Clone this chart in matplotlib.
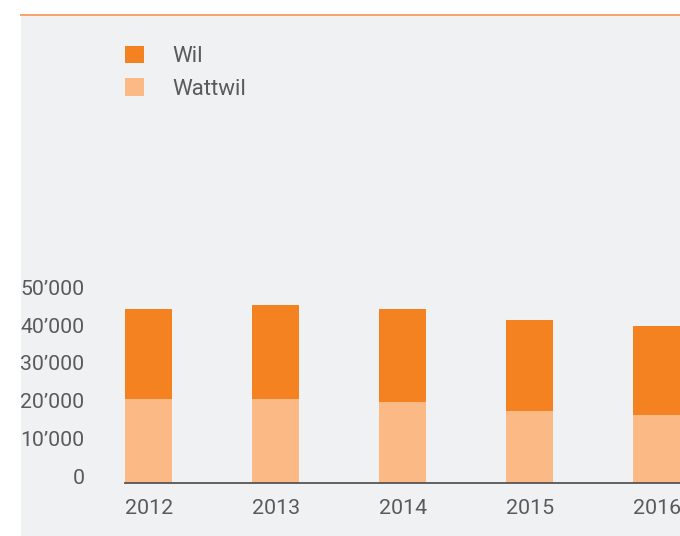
import matplotlib
matplotlib.use("Agg")
import matplotlib.pyplot as plt
from matplotlib.patches import Rectangle, Patch
from matplotlib.lines import Line2D
from matplotlib.transforms import ScaledTranslation
import numpy as np

years = ["2012", "2013", "2014", "2015", "2016"]
wattwil = [22200, 22200, 21400, 19100, 18000]
wil = [23800, 24900, 24600, 24000, 23500]
series_names = ["Wil", "Wattwil"]
yticks = [0, 10000, 20000, 30000, 40000, 50000]

c_wil = "#F58220"
c_wattwil = "#FBBA85"
c_bg = "#F0F1F3"
c_text = "#5A5A5A"

plt.rcParams['font.family'] = ['Roboto', 'DejaVu Sans']

W, H = 680, 536
fig = plt.figure(figsize=(W / 100, H / 100), dpi=100)
fig.patch.set_facecolor("white")

def fx(px):
    return px / W

def fy(py):
    return 1 - py / H

# grey panel and top orange rule
fig.patches.append(Rectangle((fx(21), 0), 1 - fx(21), fy(15), transform=fig.transFigure,
                             facecolor=c_bg, edgecolor="none", zorder=-10))
fig.lines.append(Line2D([fx(21), 1], [fy(14.5), fy(14.5)], transform=fig.transFigure,
                        color="#F7A467", linewidth=1.4, zorder=-5))

bw = 0.37
step = 127.0
left_px, right_px = 125.3, 680
bottom_px, top_px = 483.3, 293.8
ax = fig.add_axes([fx(left_px), fy(bottom_px), fx(right_px) - fx(left_px), fy(top_px) - fy(bottom_px)])
ax.set_facecolor("none")
ax.set_xlim(-bw / 2, -bw / 2 + (right_px - left_px) / step)
ax.set_ylim(0, 50000)

x = np.arange(len(years))
ax.bar(x, wattwil, width=bw, color=c_wattwil, zorder=2, clip_on=False)
ax.bar(x, wil, width=bw, bottom=wattwil, color=c_wil, zorder=2, clip_on=False)

for s in ["top", "right", "left"]:
    ax.spines[s].set_visible(False)
ax.spines["bottom"].set_color("#555555")
ax.spines["bottom"].set_linewidth(1.3)
ax.spines["bottom"].set_zorder(3)

ax.set_xticks(x)
ax.set_xticklabels(years)
ax.set_yticks(yticks)
ax.set_yticklabels([f"{v:,}".replace(",", "’") for v in yticks])
ax.tick_params(axis="x", length=0, pad=11.0, labelsize=15.4, labelcolor=c_text)
ax.tick_params(axis="y", length=0, pad=29.5, labelsize=15.3, labelcolor=c_text)
off = ScaledTranslation(0, 6.6 / 100, fig.dpi_scale_trans)
for lab in ax.get_yticklabels():
    lab.set_transform(lab.get_transform() + off)

handles = [Patch(facecolor=c_wil, edgecolor="none"), Patch(facecolor=c_wattwil, edgecolor="none")]
leg = ax.legend(handles, series_names, loc="upper left", bbox_to_anchor=(fx(125), fy(45.5)),
                bbox_transform=fig.transFigure, frameon=False, fontsize=16,
                handlelength=0.855, handleheight=0.855, handletextpad=1.26,
                labelspacing=0.5, borderpad=0, borderaxespad=0)
for t in leg.get_texts():
    t.set_color(c_text)

fig.savefig("out.png", dpi=100, facecolor=fig.get_facecolor())
